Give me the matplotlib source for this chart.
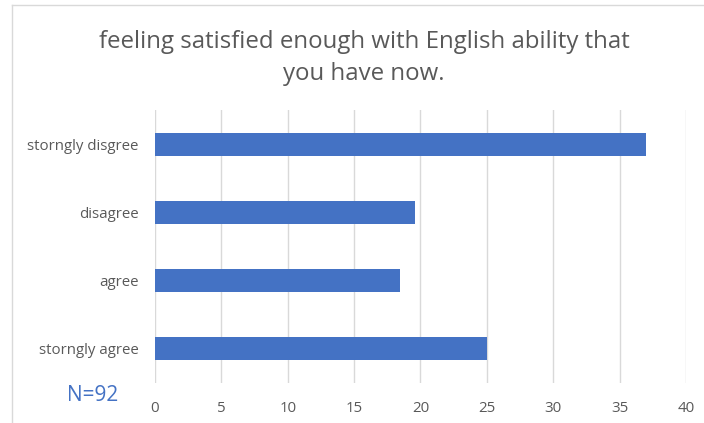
import matplotlib.pyplot as plt
from matplotlib.lines import Line2D

categories = ["storngly agree", "agree", "disagree", "storngly disgree"]
counts = [23, 17, 18, 34]
total = 92
percent = [c / total * 100 for c in counts]
x_ticks = [0, 5, 10, 15, 20, 25, 30, 35, 40]

plt.rcParams['font.family'] = ['Open Sans', 'DejaVu Sans']

fig = plt.figure(figsize=(7.04, 4.23), dpi=100)
ax = fig.add_axes([0.2202, 0.0957, 0.7542, 0.6431])

ax.barh(range(len(categories)), percent, height=0.34, color="#4472C4", zorder=3)
ax.set_yticks(range(len(categories)))
ax.set_yticklabels(categories)
ax.set_ylim(-0.5, len(categories) - 0.5)
ax.set_xlim(0, 40)
ax.set_xticks(x_ticks)
ax.grid(axis="x", color="#d9d9d9", linewidth=1, zorder=0)
for s in ax.spines.values():
    s.set_visible(False)
ax.tick_params(axis="both", length=0, labelsize=10.8, colors="#595959")
ax.tick_params(axis="x", pad=13)
ax.tick_params(axis="y", pad=12)

fig.text(0.517, 0.863, "feeling satisfied enough with English ability that\nyou have now.",
         ha="center", va="center", fontsize=17.3, color="#595959", linespacing=1.4)
fig.text(0.132, 0.066, "N=92", ha="center", va="center", fontsize=15, color="#4472C4")

# outer chart frame (top and left edges)
fig.add_artist(Line2D([12 / 704, 12 / 704], [0, 1 - 5 / 423], color="#d9d9d9", linewidth=1))
fig.add_artist(Line2D([12 / 704, 1], [1 - 5 / 423, 1 - 5 / 423], color="#d9d9d9", linewidth=1))

fig.savefig("out.png", dpi=100)
